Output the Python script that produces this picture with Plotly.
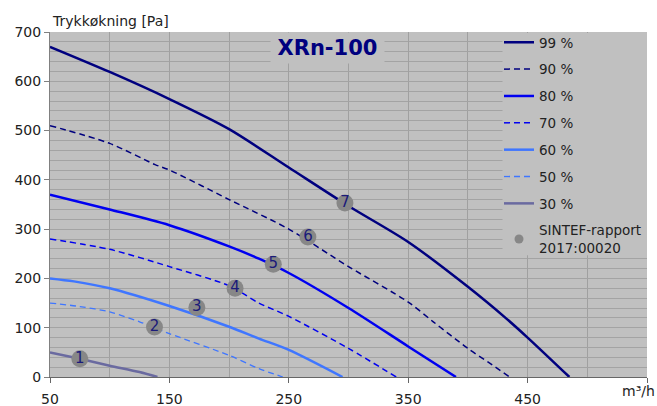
import plotly.graph_objects as go

# ---- data ----
x99 = [50, 100, 150, 200, 250, 300, 350, 400, 432, 450, 485]
y99 = [670, 619, 564, 503, 425, 347, 274, 183, 119, 80, 0]
x90 = [50, 100, 138, 150, 200, 250, 300, 350, 371, 400, 417, 435]
y90 = [510, 474, 431, 420, 360, 300, 224, 152, 112, 58, 30, 0]
x80 = [50, 100, 150, 200, 225, 250, 300, 350, 390]
y80 = [370, 340, 308, 265, 240, 211, 140, 62, 0]
x70 = [50, 100, 150, 200, 225, 250, 300, 340]
y70 = [280, 259, 224, 185, 150, 123, 58, 0]
x60 = [50, 70, 100, 150, 200, 225, 250, 295]
y60 = [200, 194, 180, 144, 102, 78, 55, 0]
x50 = [50, 75, 100, 125, 150, 200, 225, 245]
y50 = [150, 143, 132, 112, 88, 44, 17, 0]
x30 = [50, 75, 100, 125, 140]
y30 = [50, 37, 23, 10, 0]

pts_x = [75, 137.5, 173, 205, 237, 266, 297]
pts_y = [37, 101.5, 141, 180, 229, 284, 353]
pts_lbl = ["1", "2", "3", "4", "5", "6", "7"]

x_tickvals = [50, 150, 250, 350, 450, 550]
x_ticktext = ["50", "150", "250", "350", "450", ""]

series = [
    ("99 %", x99, y99, "#00007f", 2.5, "solid"),
    ("90 %", x90, y90, "#00007f", 1.5, "6px,4px"),
    ("80 %", x80, y80, "#0000f0", 2.5, "solid"),
    ("70 %", x70, y70, "#0000f0", 1.5, "6px,4px"),
    ("60 %", x60, y60, "#3f76ff", 2.5, "solid"),
    ("50 %", x50, y50, "#3f76ff", 1.3, "6px,4px"),
    ("30 %", x30, y30, "#6a6aa0", 2.5, "solid"),
]

FONT = "DejaVu Sans"
fig = go.Figure()
for i, (name, xs, ys, col, w, dash) in enumerate(series):
    fig.add_trace(go.Scatter(x=xs, y=ys, mode="lines", name=name,
                             legendgroup=f"g{i}",
                             line=dict(color=col, width=w, dash=dash,
                                       shape="spline", smoothing=0.8)))

fig.add_trace(go.Scatter(x=pts_x, y=pts_y, mode="markers+text", text=pts_lbl,
                         textposition="middle center",
                         textfont=dict(family=FONT, size=15, color="#1a1a7a"),
                         marker=dict(size=17, color="#878787"),
                         showlegend=False, hoverinfo="skip"))
fig.add_trace(go.Scatter(x=[None], y=[None], mode="markers",
                         name="SINTEF-rapport<br>2017:00020", legendgroup="g9",
                         marker=dict(size=9, color="#878787")))

fig.update_layout(
    width=657, height=406,
    margin=dict(l=50, r=10, t=32, b=29),
    paper_bgcolor="white", plot_bgcolor="#c0c0c0",
    font=dict(family=FONT, size=14, color="#222222"),
    showlegend=True,
    legend=dict(x=1, y=1.0145, xanchor="right", yanchor="top", maxheight=390,
                bgcolor="rgba(0,0,0,0)", borderwidth=0, itemwidth=30,
                tracegroupgap=6.3, font=dict(family=FONT, size=13.5, color="#222222")),
    shapes=[
        dict(type="rect", xref="paper", yref="paper", x0=0.758, x1=1.0,
             y0=0.353, y1=0.997, fillcolor="#c0c0c0", line=dict(width=0),
             layer="above"),
    ],
    annotations=[
        dict(text="<b>XRn-100</b>", x=282.5, y=700, xref="x", yref="y",
             xanchor="center", yanchor="top", showarrow=False,
             width=113, height=30, bgcolor="#c0c0c0", borderpad=0,
             font=dict(family=FONT, size=21, color="#00007f")),
        dict(text="Trykkøkning [Pa]", x=0, y=1, xref="paper", yref="paper",
             xanchor="left", yanchor="bottom", showarrow=False, yshift=1,
             font=dict(family=FONT, size=14, color="#222222")),
        dict(text="m³/h", x=1, y=0, xref="paper", yref="paper",
             xanchor="right", yanchor="top", showarrow=False, yshift=-4, xshift=10,
             font=dict(family=FONT, size=14, color="#222222")),
    ],
)
fig.update_xaxes(range=[50, 550], tickmode="array", tickvals=x_tickvals, ticktext=x_ticktext,
                 ticks="outside", ticklen=5, automargin=False,
                 tickcolor="#666666", showline=True, linecolor="#666666", linewidth=1,
                 showgrid=True, gridcolor="#a0a0a0", gridwidth=1, zeroline=False,
                 ticklabelstandoff=4,
                 minor=dict(dtick=50, tick0=50, showgrid=True, gridcolor="#a0a0a0", ticks=""))
fig.update_yaxes(range=[0, 700], tick0=0, dtick=100, ticks="outside", ticklen=5,
                 automargin=False,
                 tickcolor="#808080", showline=True, linecolor="#808080", linewidth=1,
                 showgrid=True, gridcolor="#a3a3a3", gridwidth=1, zeroline=False,
                 minor=dict(dtick=20, tick0=0, showgrid=True, gridcolor="#a3a3a3", ticks=""))

fig.write_html("out.html")
